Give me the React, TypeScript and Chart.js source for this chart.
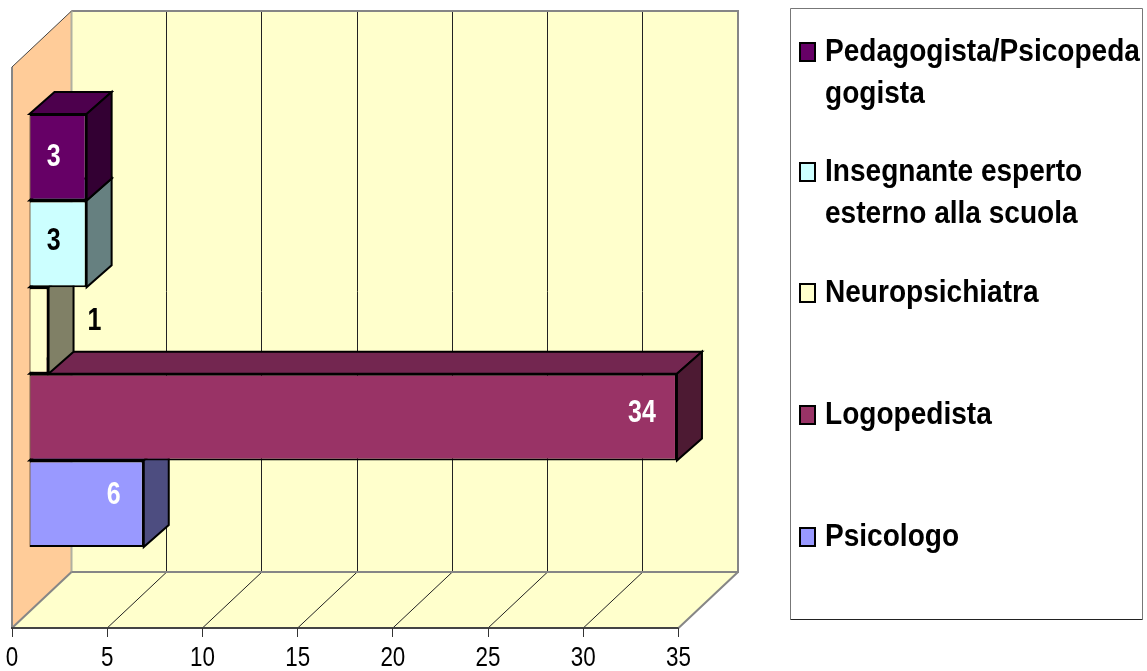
import React, { useEffect, useRef } from "react";
import { Chart, registerables } from "chart.js";

Chart.register(...registerables);

const categories = [""];
const seriesNames = ["Pedagogista/Psicopedagogista", "Insegnante esperto esterno alla scuola", "Neuropsichiatra", "Logopedista", "Psicologo"];
const seriesValues = [3, 3, 1, 34, 6];
const frontColors = ["#660066", "#CCFFFF", "#FFFFCC", "#993366", "#9999FF"];
const sideColors = ["#330033", "#668080", "#808066", "#4D1A33", "#4D4D80"];
const topColors = ["#4D004D", "#99BFBF", "#BFBF99", "#732650", "#7373BF"];
const labelColors = ["#FFFFFF", "#000000", "#000000", "#FFFFFF", "#FFFFFF"];
const labelOffsetsX = [-33, -33, 46, -35, -30];
const labelOffsetsY = [0, -3, -9, -4, -9];
const legendLines = [
  ["Pedagogista/Psicopeda", "gogista"],
  ["Insegnante esperto", "esterno alla scuola"],
  ["Neuropsichiatra"],
  ["Logopedista"],
  ["Psicologo"],
];
const legendCentres = [52, 172, 293, 415, 537];
const xTicks = [0, 5, 10, 15, 20, 25, 30, 35];

const WALL_DX = 59.5;
const WALL_DY = -56;
const BAR_DX = 17.5;
const BAR_DY = -17;
const BAR_DEPTH_X = 25;
const BAR_DEPTH_Y = -22;
const SANS = '"Liberation Sans", Arial, sans-serif';

function poly(ctx: CanvasRenderingContext2D, pts: number[][], fill: string | null, stroke: string | null, lw = 1) {
  ctx.beginPath();
  pts.forEach((p, i) => (i ? ctx.lineTo(p[0], p[1]) : ctx.moveTo(p[0], p[1])));
  ctx.closePath();
  if (fill) {
    ctx.fillStyle = fill;
    ctx.fill();
  }
  if (stroke) {
    ctx.strokeStyle = stroke;
    ctx.lineWidth = lw;
    ctx.stroke();
  }
}

function line(ctx: CanvasRenderingContext2D, x1: number, y1: number, x2: number, y2: number, c: string, lw = 1) {
  ctx.beginPath();
  ctx.moveTo(x1, y1);
  ctx.lineTo(x2, y2);
  ctx.strokeStyle = c;
  ctx.lineWidth = lw;
  ctx.stroke();
}

function squeezed(
  ctx: CanvasRenderingContext2D,
  s: string,
  x: number,
  y: number,
  sx: number,
  font: string,
  color: string,
  align: CanvasTextAlign
) {
  ctx.save();
  ctx.translate(x, y);
  ctx.scale(sx, 1);
  ctx.font = font;
  ctx.fillStyle = color;
  ctx.textAlign = align;
  ctx.textBaseline = "middle";
  ctx.fillText(s, 0, 0);
  ctx.restore();
}

const crisp = (v: number) => Math.floor(v) + 0.5;

const scene3d = {
  id: "scene3d",
  beforeDatasetsDraw(chart: any) {
    const { ctx, chartArea: a, scales } = chart;
    const L = a.left, R = a.right, T = a.top, B = a.bottom;
    const dx = WALL_DX, dy = WALL_DY;
    ctx.save();
    poly(ctx, [[L, T], [L + dx, T + dy], [L + dx, B + dy], [L, B]], "#FFCC99", null);
    poly(ctx, [[L + dx, T + dy], [R + dx, T + dy], [R + dx, B + dy], [L + dx, B + dy]], "#FFFFCC", null);
    poly(ctx, [[L, B], [L + dx, B + dy], [R + dx, B + dy], [R, B]], "#FFFFCC", null);
    xTicks.slice(1, -1).forEach((v) => {
      const x = scales.x.getPixelForValue(v);
      line(ctx, crisp(x + dx), T + dy, crisp(x + dx), B + dy, "#222222", 1);
      line(ctx, x, B, x + dx, B + dy, "#222222", 1);
    });
    const g = "#868686";
    line(ctx, L + dx, T + dy, R + dx + 1, T + dy, g, 2);
    line(ctx, R + dx, T + dy, R + dx, B + dy, g, 2);
    line(ctx, L + dx, T + dy, L + dx, B + dy, "#B0B0A0", 2);
    line(ctx, L + dx, B + dy, R + dx + 1, B + dy, g, 2);
    line(ctx, L, T, L + dx, T + dy, "#444444", 1);
    line(ctx, L, T, L, B, g, 2);
    line(ctx, L, B, L + dx, B + dy, g, 2);
    line(ctx, R, B, R + dx, B + dy, g, 2);
    line(ctx, L - 1, B, R, B, "#444444", 2);
    xTicks.forEach((v) => {
      const x = scales.x.getPixelForValue(v);
      line(ctx, crisp(x), B, crisp(x), B + 9, "#333333", 1);
      squeezed(ctx, String(v), x, B + 30, 0.8, `28px ${SANS}`, "#000000", "center");
    });
    ctx.restore();
    ctx.save();
    ctx.translate(BAR_DX, BAR_DY);
    // top and side faces of the bars, bottom bar first, before the library paints the front faces
    for (let i = chart.data.datasets.length - 1; i >= 0; i--) {
      const bar = chart.getDatasetMeta(i).data[0];
      const l = bar.base, r = bar.x, t = bar.y - bar.height / 2, b = bar.y + bar.height / 2;
      const ex = BAR_DEPTH_X, ey = BAR_DEPTH_Y;
      ctx.lineJoin = "miter";
      poly(ctx, [[l, t], [l + ex, t + ey], [r + ex, t + ey], [r, t]], topColors[i], "#000000", 2);
      poly(ctx, [[r, t], [r + ex, t + ey], [r + ex, b + ey], [r, b]], sideColors[i], "#000000", 2);
    }
  },
  afterDatasetsDraw(chart: any) {
    const { ctx } = chart;
    chart.data.datasets.forEach((ds: any, i: number) => {
      const bar = chart.getDatasetMeta(i).data[0];
      squeezed(
        ctx,
        String(ds.data[0]),
        bar.x + labelOffsetsX[i],
        bar.y + labelOffsetsY[i],
        0.78,
        `bold 32px ${SANS}`,
        labelColors[i],
        "center"
      );
    });
    ctx.restore();
    // legend box
    ctx.save();
    ctx.fillStyle = "#FFFFFF";
    ctx.fillRect(790.5, 8.5, 352, 611);
    line(ctx, 790.5, 8.5, 1142.5, 8.5, "#777777", 1);
    line(ctx, 790.5, 8.5, 790.5, 619.5, "#777777", 1);
    line(ctx, 1142.5, 8.5, 1142.5, 619.5, "#777777", 1);
    line(ctx, 790.5, 619.5, 1142.5, 619.5, "#222222", 1);
    legendLines.forEach((lines, i) => {
      const cy = legendCentres[i];
      ctx.fillStyle = frontColors[i];
      ctx.strokeStyle = "#000000";
      ctx.lineWidth = 2;
      ctx.fillRect(800, cy - 9, 15, 18);
      ctx.strokeRect(800, cy - 9, 15, 18);
      lines.forEach((s, j) =>
        squeezed(ctx, s, 825, cy + j * 42, 0.905, `bold 31px ${SANS}`, "#000000", "left")
      );
    });
    ctx.restore();
  },
};

export default function App() {
  const ref = useRef<HTMLCanvasElement>(null);
  useEffect(() => {
    const chart = new Chart(ref.current as HTMLCanvasElement, {
      type: "bar",
      data: {
        labels: categories,
        datasets: seriesNames.map((name, i) => ({
          label: name,
          data: [seriesValues[i]],
          backgroundColor: frontColors[i],
          borderColor: "#000000",
          borderWidth: { left: 1, right: 2, top: 2, bottom: 2 },
          borderSkipped: false,
          clip: false as any,
        })),
      },
      options: {
        indexAxis: "y",
        responsive: false,
        animation: false,
        categoryPercentage: 0.772,
        barPercentage: 1,
        layout: { padding: { left: 12, right: 468.5, top: 67, bottom: 0 } },
        plugins: { legend: { display: false }, title: { display: false }, tooltip: { enabled: false } },
        scales: {
          x: {
            type: "linear",
            min: 0,
            max: 35,
            grid: { display: false },
            border: { display: false },
            ticks: { display: false },
            afterFit: (s: any) => {
              s.paddingLeft = 0;
              s.paddingRight = 0;
              s.height = 43;
            },
            afterBuildTicks: (s: any) => {
              s.ticks = xTicks.map((value) => ({ value }));
            },
          },
          y: { type: "category", display: false },
        },
      } as any,
      plugins: [scene3d],
    });
    return () => chart.destroy();
  }, []);
  return (
    <canvas
      ref={ref}
      width={1147}
      height={671}
      style={{ position: "fixed", left: 0, top: 0, width: 1147, height: 671, background: "#FFFFFF" }}
    />
  );
}
